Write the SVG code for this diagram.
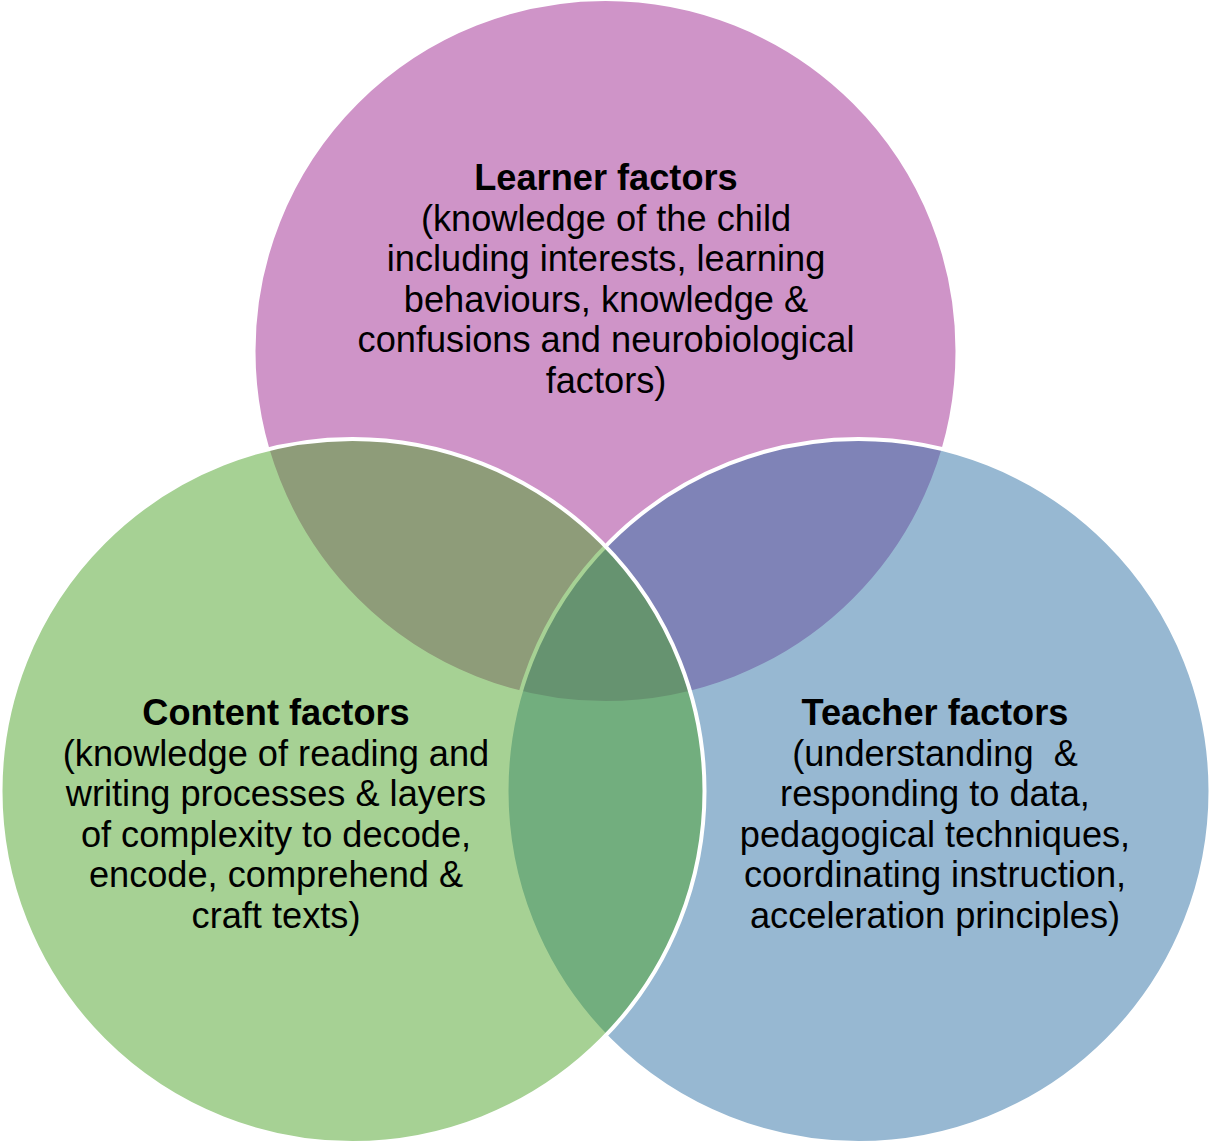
<svg xmlns="http://www.w3.org/2000/svg" width="1217" height="1146" viewBox="0 0 1217 1146">
<style>
.c{stroke:#ffffff;stroke-width:4;fill-opacity:0.5}
.t{font-family:"Liberation Sans",Arial,sans-serif;font-size:36.2px;fill:#000000;text-anchor:middle}
.h{font-weight:bold}
</style>
<rect width="1217" height="1146" fill="#ffffff"/>
<g id="learner">
<circle class="c" cx="605.5" cy="351" r="352" fill="#9F2991"/>
<text class="t" x="606"><tspan class="h" x="606" y="190">Learner factors</tspan><tspan x="606" y="230.6">(knowledge of the child</tspan><tspan x="606" y="271.2">including interests, learning</tspan><tspan x="606" y="311.8">behaviours, knowledge &amp;</tspan><tspan x="606" y="352.4">confusions and neurobiological</tspan><tspan x="606" y="393">factors)</tspan></text>
</g>
<g id="teacher">
<circle class="c" cx="858.5" cy="791" r="352" fill="#2F71A5"/>
<text class="t" x="935" style="white-space:pre"><tspan class="h" x="935" y="725">Teacher factors</tspan><tspan x="935" y="765.6">(understanding  &amp;</tspan><tspan x="935" y="806.2">responding to data,</tspan><tspan x="935" y="846.8">pedagogical techniques,</tspan><tspan x="935" y="887.4">coordinating instruction,</tspan><tspan x="935" y="928">acceleration principles)</tspan></text>
</g>
<g id="content">
<circle class="c" cx="352.5" cy="791" r="352" fill="#4DA329"/>
<text class="t" x="276"><tspan class="h" x="276" y="725">Content factors</tspan><tspan x="276" y="765.6">(knowledge of reading and</tspan><tspan x="276" y="806.2">writing processes &amp; layers</tspan><tspan x="276" y="846.8">of complexity to decode,</tspan><tspan x="276" y="887.4">encode, comprehend &amp;</tspan><tspan x="276" y="928">craft texts)</tspan></text>
</g>
<g id="connectors"/>
</svg>
